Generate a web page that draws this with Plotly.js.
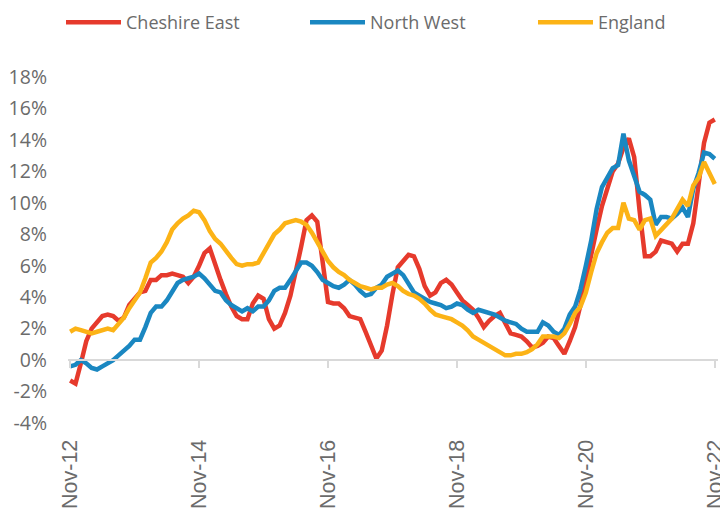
<!DOCTYPE html>
<html>
<head>
<meta charset="utf-8">
<script src="https://cdn.plot.ly/plotly-3.0.1.min.js"></script>
<style>html,body{margin:0;padding:0;background:#fff;}#chart{width:720px;height:511px;}</style>
</head>
<body>
<div id="chart"></div>
<script>
// Monthly series, Nov-12 .. Nov-22 (annual % change)
const seriesNames = ["Cheshire East", "North West", "England"];
const cheshireEast = [
  -1.3,-1.5,-0.2,1.2,2.0,2.4,2.8,2.9,2.8,2.5,2.7,3.5,3.9,4.3,4.4,5.1,5.1,5.4,5.4,5.5,
  5.4,5.3,4.9,5.3,6.0,6.8,7.1,6.0,5.1,4.2,3.4,2.8,2.6,2.6,3.6,4.1,3.9,2.6,2.0,2.2,
  3.0,4.1,5.5,7.2,8.9,9.2,8.8,6.0,3.7,3.6,3.6,3.3,2.8,2.7,2.6,1.8,0.9,0.1,0.6,2.2,
  4.2,5.9,6.3,6.7,6.6,5.8,4.7,4.1,4.3,4.9,5.1,4.8,4.3,3.8,3.5,3.2,2.7,2.1,2.5,2.8,
  3.0,2.3,1.7,1.6,1.5,1.2,0.8,0.9,1.1,1.5,1.4,0.9,0.4,1.2,2.1,3.5,5.2,6.6,8.3,9.8,
  11.0,12.0,12.5,13.5,14.1,12.9,9.5,6.6,6.6,6.9,7.6,7.5,7.4,6.9,7.4,7.4,8.7,11.2,13.8,15.1,
  15.3
];
const northWest = [
  -0.4,-0.3,0.0,-0.2,-0.5,-0.6,-0.4,-0.2,0.0,0.3,0.6,0.9,1.3,1.3,2.1,3.0,3.4,3.4,3.8,4.4,
  4.9,5.1,5.2,5.3,5.5,5.2,4.8,4.4,4.3,3.8,3.5,3.3,3.1,3.3,3.1,3.4,3.4,3.8,4.4,4.6,
  4.6,5.1,5.6,6.2,6.2,6.0,5.6,5.1,4.9,4.7,4.6,4.8,5.1,4.8,4.4,4.1,4.2,4.6,4.8,5.3,
  5.5,5.7,5.4,4.8,4.3,4.1,3.9,3.7,3.6,3.5,3.3,3.4,3.6,3.5,3.2,3.0,3.2,3.1,3.0,2.9,
  2.7,2.5,2.4,2.3,2.0,1.8,1.8,1.8,2.4,2.2,1.8,1.6,2.0,2.9,3.4,4.5,6.0,7.6,9.6,11.0,
  11.6,12.2,12.4,14.4,12.7,11.8,10.7,10.5,10.2,8.6,9.1,9.1,9.0,9.3,9.7,9.1,10.9,11.9,13.2,13.1,
  12.8
];
const england = [
  1.8,2.0,1.9,1.8,1.7,1.8,1.9,2.0,1.9,2.3,2.7,3.3,3.8,4.3,5.2,6.2,6.5,6.9,7.5,8.3,
  8.7,9.0,9.2,9.5,9.4,8.9,8.2,7.7,7.4,6.9,6.5,6.1,6.0,6.1,6.1,6.2,6.8,7.4,8.0,8.3,
  8.7,8.8,8.9,8.8,8.6,8.1,7.5,6.8,6.3,5.9,5.6,5.4,5.1,4.9,4.7,4.6,4.5,4.6,4.6,4.8,
  4.9,4.7,4.4,4.2,4.1,3.9,3.6,3.2,2.9,2.8,2.7,2.6,2.4,2.2,1.9,1.5,1.3,1.1,0.9,0.7,
  0.5,0.3,0.3,0.4,0.4,0.5,0.7,1.0,1.5,1.5,1.5,1.4,1.7,2.3,3.0,3.4,4.3,5.6,6.8,7.5,
  8.1,8.4,8.4,10.0,9.0,8.9,8.3,8.9,9.0,7.9,8.3,8.6,9.0,9.6,10.2,9.8,11.1,11.6,12.6,11.9,
  11.2
];
const tickLabels = ["Nov-12","Nov-14","Nov-16","Nov-18","Nov-20","Nov-22"];
const tickMonths = [0,24,48,72,96,120];
const yTickVals = [-4,-2,0,2,4,6,8,10,12,14,16,18];
const colors = ["#E63A2C","#1A87C1","#FCB316"];

const monthIndex = cheshireEast.map((_, i) => i);
const allSeries = [cheshireEast, northWest, england];
const legendIds = ["legend", "legend2", "legend3"];
const legendX = [61, 305, 533];

const traces = allSeries.map((vals, k) => ({
  type: "scatter",
  mode: "lines",
  name: seriesNames[k],
  x: monthIndex,
  y: vals,
  legend: legendIds[k],
  line: {color: colors[k], width: 4.5},
  hoverinfo: "skip"
}));

const fontFam = "'Open Sans', 'Noto Sans', sans-serif";
const layout = {
  width: 720, height: 511,
  margin: {l: 68, r: 2, t: 77, b: 88},
  paper_bgcolor: "#fff", plot_bgcolor: "#fff",
  showlegend: true,
  xaxis: {
    range: [-0.4, 120.6],
    anchor: "free", position: 4/22,
    tickmode: "array", tickvals: tickMonths, ticktext: tickLabels,
    tickangle: -90, showgrid: false, zeroline: false,
    showline: true, linecolor: "#D9D9D9", linewidth: 2,
    ticks: "outside", ticklen: 7, tickcolor: "#D9D9D9", tickwidth: 2,
    ticklabelstandoff: 63, ticklabeloverflow: "allow",
    tickfont: {family: "'Liberation Sans', Arial, sans-serif", size: 21.5, color: "#6b6b6b"},
    fixedrange: true
  },
  yaxis: {
    range: [-4, 18], tickmode: "array", tickvals: yTickVals,
    ticktext: yTickVals.map(v => v + "%"),
    showgrid: false, zeroline: false, showline: false, ticks: "",
    ticklabelstandoff: 20,
    tickfont: {family: fontFam, size: 19.5, color: "#6b6b6b"},
    fixedrange: true
  }
};
legendIds.forEach((id, k) => {
  layout[id] = {
    orientation: "h", xref: "container", yref: "container",
    x: legendX[k] / 720, xanchor: "left",
    y: 1 - 4 / 511, yanchor: "top",
    font: {family: fontFam, size: 18, color: "#6b6b6b"},
    itemwidth: 55, bgcolor: "rgba(0,0,0,0)"
  };
});

Plotly.newPlot("chart", traces, layout, {displayModeBar: false, staticPlot: true});
</script>
</body>
</html>
